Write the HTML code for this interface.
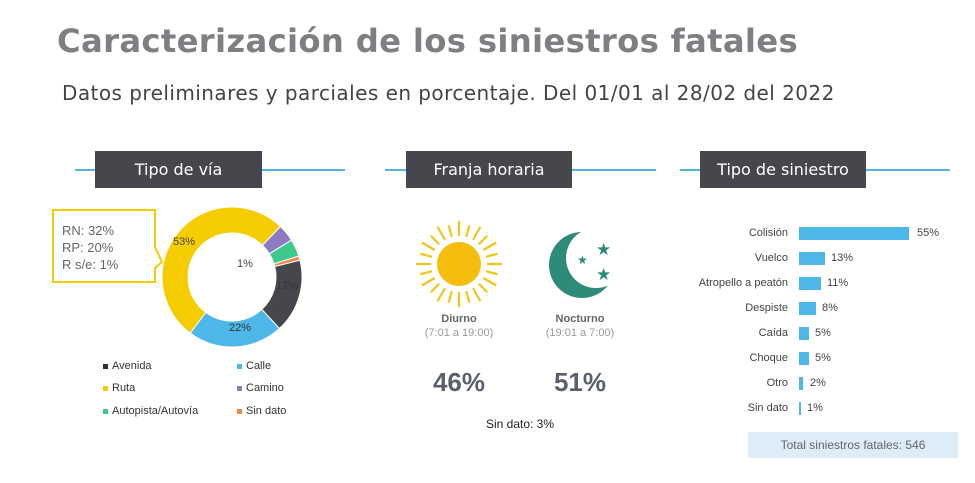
<!DOCTYPE html>
<html><head><meta charset="utf-8"><style>
body{margin:0;width:975px;height:483px;background:#fff;position:relative;overflow:hidden;font-family:"Liberation Sans",sans-serif}
.a{position:absolute;white-space:nowrap}
.hd{position:absolute;background:#45474c;color:#fff;font-size:16px;text-align:center;line-height:37px;height:37px;top:151px;font-family:"DejaVu Sans",sans-serif}
.ln{position:absolute;height:2px;background:#4fb3e6;top:169px}
.lb{font-size:11px;color:#444;text-align:right;width:110px}
.bar{position:absolute;height:13px;background:#4db8e8;left:799px}
.pc{font-size:11px;color:#444}
.lg{font-size:11px;color:#333}
.dot{display:inline-block;width:5px;height:5px;margin-right:4px;vertical-align:middle}
</style></head><body>
<div class="a" style="left:57px;top:22px;font-size:32.3px;font-weight:bold;color:#7d7f82;font-family:'DejaVu Sans',sans-serif;letter-spacing:0.3px">Caracterización de los siniestros fatales</div>
<div class="a" style="left:62px;top:81px;font-size:20px;color:#444;font-family:'DejaVu Sans',sans-serif;letter-spacing:0.45px">Datos preliminares y parciales en porcentaje. Del 01/01 al 28/02 del 2022</div>

<div class="ln" style="left:75px;width:270px"></div><div class="hd" style="left:95px;width:167px">Tipo de vía</div>
<div class="ln" style="left:385px;width:271px"></div><div class="hd" style="left:406px;width:166px">Franja horaria</div>
<div class="ln" style="left:680px;width:270px"></div><div class="hd" style="left:700px;width:166px">Tipo de siniestro</div>

<svg class="a" style="left:0;top:0" width="975" height="483">
<g transform="translate(232,277)" stroke="#fff" stroke-width="1">
</g>
<polygon points="53,210 155,210 155,247 162,262 155,268 155,282 53,282" fill="#fff" stroke="#f5c800" stroke-width="2"/>
<g transform="translate(459,264)" stroke="#f6c31a" stroke-width="2.2">
<g id="rays"></g>
<circle r="22" fill="#f5bd0e" stroke="none"/>
</g>
<g>
<circle cx="582" cy="265" r="33" fill="#2e8b7a"/>
<circle cx="596" cy="258" r="30" fill="#fff"/>
<text x="596" y="255" font-size="17" fill="#2e8b7a">★</text>
<text x="577" y="264" font-size="12" fill="#2e8b7a">★</text>
<text x="596" y="280" font-size="17" fill="#2e8b7a">★</text>
</g>
</svg>
<script>
(function(){
var segs=[[213,53,"#f5cc00"],[0,4,"#8d7ac4"],[0,4,"#3dc98c"],[0,1,"#f08a4b"],[0,17,"#45474c"],[0,22,"#4db8e8"]];
var a=213,R=70,r=44,g=document.querySelector('svg g'),ns="http://www.w3.org/2000/svg";
segs.forEach(function(s){var b=a+s[1]*3.6;var p=function(ang,rad){var t=(ang-90)*Math.PI/180;return [rad*Math.cos(t),rad*Math.sin(t)]};
var p1=p(a,R),p2=p(b,R),p3=p(b,r),p4=p(a,r),l=(b-a)>180?1:0;
var e=document.createElementNS(ns,'path');e.setAttribute('d','M'+p1+'A'+R+','+R+' 0 '+l+' 1 '+p2+'L'+p3+'A'+r+','+r+' 0 '+l+' 0 '+p4+'Z');e.setAttribute('fill',s[2]);g.appendChild(e);a=b;});
var rg=document.getElementById('rays');for(var i=0;i<24;i++){var t=i*15*Math.PI/180;var l=document.createElementNS(ns,'line');l.setAttribute('x1',28*Math.cos(t));l.setAttribute('y1',28*Math.sin(t));l.setAttribute('x2',(i%2?40:43)*Math.cos(t));l.setAttribute('y2',(i%2?40:43)*Math.sin(t));rg.appendChild(l);}
})();
</script>
<div class="a" style="left:62px;top:222px;font-size:13px;color:#666;line-height:17px">RN: 32%<br>RP: 20%<br>R s/e: 1%</div>
<div class="a" style="left:173px;top:236px;font-size:11px;color:#444">53%</div>
<div class="a" style="left:237px;top:258px;font-size:11px;color:#444">1%</div>
<div class="a" style="left:276px;top:280px;font-size:11px;color:#333">17%</div>
<div class="a" style="left:229px;top:322px;font-size:11px;color:#333">22%</div>
<div class="a lg" style="left:103px;top:360px"><span class="dot" style="background:#333"></span>Avenida</div>
<div class="a lg" style="left:237px;top:360px"><span class="dot" style="background:#4db8e8"></span>Calle</div>
<div class="a lg" style="left:103px;top:382px"><span class="dot" style="background:#f5cc00"></span>Ruta</div>
<div class="a lg" style="left:237px;top:382px"><span class="dot" style="background:#8d7ac4"></span>Camino</div>
<div class="a lg" style="left:103px;top:405px"><span class="dot" style="background:#3dc98c"></span>Autopista/Autovía</div>
<div class="a lg" style="left:237px;top:405px"><span class="dot" style="background:#f08a4b"></span>Sin dato</div>

<div class="a" style="left:409px;top:313px;width:100px;text-align:center;font-size:11px;color:#666;font-weight:bold">Diurno</div>
<div class="a" style="left:409px;top:327px;width:100px;text-align:center;font-size:11px;color:#999">(7:01 a 19:00)</div>
<div class="a" style="left:530px;top:313px;width:100px;text-align:center;font-size:11px;color:#666;font-weight:bold">Nocturno</div>
<div class="a" style="left:530px;top:327px;width:100px;text-align:center;font-size:11px;color:#999">(19:01 a 7:00)</div>
<div class="a" style="left:409px;top:367px;width:100px;text-align:center;font-size:26px;color:#5a5f6a;font-weight:bold">46%</div>
<div class="a" style="left:530px;top:367px;width:100px;text-align:center;font-size:26px;color:#5a5f6a;font-weight:bold">51%</div>
<div class="a" style="left:470px;top:417px;width:100px;text-align:center;font-size:12px;color:#222">Sin dato: 3%</div>

<div class="a lb" style="left:678px;top:227px">Colisión</div><div class="bar" style="top:227px;width:110px"></div><div class="a pc" style="left:917px;top:227px">55%</div>
<div class="a lb" style="left:678px;top:252px">Vuelco</div><div class="bar" style="top:252px;width:26px"></div><div class="a pc" style="left:831px;top:252px">13%</div>
<div class="a lb" style="left:678px;top:277px">Atropello a peatón</div><div class="bar" style="top:277px;width:22px"></div><div class="a pc" style="left:827px;top:277px">11%</div>
<div class="a lb" style="left:678px;top:302px">Despiste</div><div class="bar" style="top:302px;width:17px"></div><div class="a pc" style="left:822px;top:302px">8%</div>
<div class="a lb" style="left:678px;top:327px">Caída</div><div class="bar" style="top:327px;width:10px"></div><div class="a pc" style="left:815px;top:327px">5%</div>
<div class="a lb" style="left:678px;top:352px">Choque</div><div class="bar" style="top:352px;width:10px"></div><div class="a pc" style="left:815px;top:352px">5%</div>
<div class="a lb" style="left:678px;top:377px">Otro</div><div class="bar" style="top:377px;width:4px"></div><div class="a pc" style="left:810px;top:377px">2%</div>
<div class="a lb" style="left:678px;top:402px">Sin dato</div><div class="bar" style="top:402px;width:2px"></div><div class="a pc" style="left:807px;top:402px">1%</div>
<div class="a" style="left:748px;top:432px;width:210px;height:26px;background:#dcedf7;text-align:center;line-height:26px;font-size:12px;color:#666">Total siniestros fatales: 546</div>
</body></html>
